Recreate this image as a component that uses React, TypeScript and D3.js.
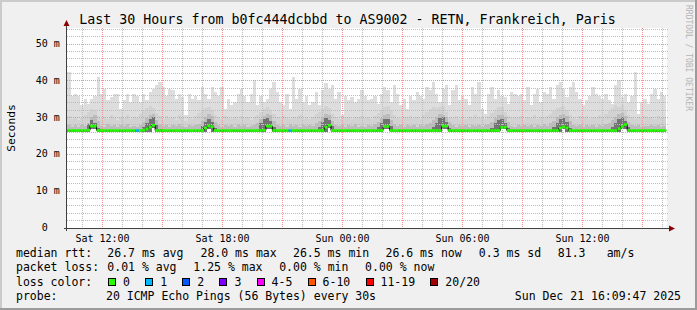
import React from 'react';
import * as d3 from 'd3';

// ---- data (ms per column, ~9.8 min steps) ----
const maxRtt = [
  33.3, 42.4, 36.0, 36.5, 36.0, 33.3, 35.0, 33.8, 35.0, 36.0,
  41.0, 36.5, 37.9, 34.7, 35.6, 36.5, 36.3, 32.4, 34.7, 36.5,
  34.2, 36.5, 36.0, 34.2, 36.5, 34.7, 37.0, 37.9, 38.8, 39.7,
  38.3, 36.0, 37.9, 37.4, 35.1, 36.5, 35.6, 30.6, 36.5, 35.1,
  36.0, 34.7, 38.3, 36.5, 35.1, 38.3, 37.0,
  36.0, 38.3, 32.4, 35.1, 33.3, 34.2, 36.5, 37.9, 36.0, 34.2,
  36.5, 40.2, 33.3, 36.0, 34.2, 35.1, 37.9, 39.7, 37.0, 34.2,
  33.3, 36.5, 32.4, 41.0, 35.1, 37.9, 34.2, 36.0, 33.3, 34.2,
  37.0, 33.3, 37.4, 39.3, 37.9, 38.8, 35.1, 37.0, 30.6, 36.0,
  34.7, 35.6, 34.2, 35.1, 37.4, 36.0,
  34.7, 35.1, 36.0, 33.8, 36.5, 38.3, 37.4, 34.2, 38.8, 36.5,
  33.3, 35.1, 32.4, 36.0, 34.7, 37.0, 36.0, 35.1, 38.3, 37.4,
  39.7, 36.5, 34.2, 37.9, 38.8, 33.3, 37.4, 38.8, 34.7, 36.0,
  35.1, 33.3, 38.3, 36.5, 39.7, 32.4, 31.0, 36.5, 38.3, 35.1,
  37.4, 36.0, 35.6, 33.8, 37.0, 36.5,
  36.0, 36.5, 34.7, 38.3, 33.3, 36.5, 37.9, 34.2, 37.0, 36.5,
  38.3, 35.1, 38.8, 39.7, 37.9, 35.6, 38.3, 39.7, 37.0, 35.1,
  33.3, 34.7, 36.0, 38.3, 36.5, 36.0, 35.1, 36.5, 34.7, 33.8,
  38.8, 40.2, 35.6, 36.5, 34.2, 36.0, 42.4, 31.0, 34.2, 35.1,
  33.8, 36.5, 37.9, 35.1, 37.0, 36.0,
];

const p90Rtt = [
  29.8, 30.5, 29.6, 30.2, 29.4, 29.9, 30.8, 31.5, 32.4, 32.0,
  30.4, 29.7, 30.1, 29.5, 30.6, 29.8, 29.3, 30.2, 29.9, 30.7,
  29.6, 30.3, 29.8, 31.0, 31.8, 32.6, 33.2, 32.5, 31.2, 30.4,
  29.7, 30.5, 29.9, 30.2, 29.4, 30.6, 29.8, 29.2, 30.1, 29.7,
  30.4, 31.2, 31.8, 32.5, 33.0, 32.2, 30.6,
  30.2, 29.6, 30.4, 29.8, 29.5, 30.1, 29.7, 30.5, 29.9, 30.2,
  29.4, 30.3, 30.8, 31.6, 32.4, 33.0, 32.2, 30.9, 30.1, 29.6,
  30.4, 29.8, 29.5, 30.2, 29.9, 30.6, 29.7, 30.1, 29.5, 30.3,
  30.9, 31.5, 32.3, 33.1, 32.6, 31.0, 30.2, 29.7, 30.5, 29.9,
  30.3, 29.6, 30.1, 29.8, 30.4, 29.9,
  30.1, 29.7, 30.4, 31.2, 32.0, 32.8, 33.2, 32.1, 30.8, 30.0,
  29.6, 30.3, 29.8, 30.5, 29.9, 30.2, 29.5, 30.6, 31.5, 32.4,
  33.0, 32.6, 32.8, 33.1, 31.4, 30.3, 29.8, 30.4, 29.7, 30.1,
  29.5, 30.3, 29.9, 30.6, 29.8, 30.2, 29.6, 30.4, 31.2, 32.0,
  32.8, 33.0, 31.6, 30.4, 29.8, 30.2,
  29.9, 30.5, 29.6, 30.2, 29.8, 30.6, 29.7, 30.3, 29.9, 30.4,
  31.0, 31.8, 32.5, 33.0, 33.2, 32.1, 30.6, 30.0, 29.7, 30.4,
  29.8, 30.5, 29.6, 30.2, 29.9, 30.7, 30.1, 30.9, 31.7, 32.5,
  33.3, 33.0, 33.4, 32.2, 30.8, 30.1, 29.7, 30.3, 29.8, 30.5,
  29.9, 30.2, 29.6, 30.4, 29.8, 30.1,
];

const p75Rtt = [
  27.6, 28.1, 27.4, 27.9, 27.5, 28.0, 27.7, 28.6, 30.2, 30.8,
  29.0, 27.8, 27.5, 28.2, 27.6, 27.9, 27.4, 28.0, 27.7, 28.3,
  27.5, 27.8, 27.4, 28.1, 28.9, 29.8, 30.6, 31.0, 29.4, 28.2,
  27.7, 28.0, 27.5, 27.9, 27.6, 28.2, 27.8, 27.4, 28.0, 27.6,
  27.9, 28.3, 29.2, 30.1, 30.9, 30.4, 28.8, 27.9, 27.5, 28.1,
  27.7, 27.9, 27.4, 28.2, 27.6, 28.0, 27.5, 27.8, 28.1, 28.4,
  29.6, 30.5, 31.0, 30.6, 29.1, 28.0, 27.6, 27.9, 27.5, 28.2,
  27.7, 27.9, 27.4, 28.0, 27.6, 28.1, 27.8, 28.4, 29.1, 30.2,
  30.9, 30.7, 29.0, 28.1, 27.7, 28.0, 27.5, 27.9, 27.6, 28.2,
  27.5, 27.8, 27.4, 28.0, 27.7, 28.3, 28.9, 29.8, 30.8, 30.9,
  29.3, 28.2, 27.6, 27.9, 27.5, 28.1, 27.7, 27.9, 27.4, 28.0,
  27.6, 28.2, 28.6, 29.4, 30.3, 31.0, 30.8, 30.1, 28.7, 27.9,
  27.5, 28.0, 27.7, 27.9, 27.4, 28.1, 27.6, 28.0, 27.5, 27.9,
  28.2, 28.9, 29.9, 30.6, 30.8, 30.2, 28.7, 27.8, 27.5, 27.9,
  27.6, 28.1, 27.7, 27.9, 27.4, 28.0, 27.6, 28.2, 27.8, 28.5,
  29.2, 30.1, 30.8, 31.0, 30.4, 29.0, 28.0, 27.6, 27.9, 27.5,
  28.1, 27.7, 27.9, 27.5, 28.0, 27.6, 28.2, 28.4, 29.3, 30.2,
  30.9, 31.2, 30.5, 28.8, 27.9, 27.6, 28.0, 27.5, 27.8, 27.6,
  28.1, 27.7, 27.9, 27.5, 27.8,
];

const p60Rtt = [
  26.7, 26.7, 26.7, 26.7, 26.7, 26.7, 26.7, 28.2, 29.4, 28.6,
  27.2, 26.7, 26.7, 26.7, 26.7, 26.7, 26.7, 26.7, 26.7, 26.7,
  26.7, 26.7, 26.7, 26.7, 27.4, 28.6, 29.7, 30.2, 28.0, 26.9,
  26.7, 26.7, 26.7, 26.7, 26.7, 26.7, 26.7, 26.7, 26.7, 26.7,
  26.7, 26.7, 27.6, 28.8, 29.5, 28.9, 27.3, 26.7, 26.7, 26.7,
  26.7, 26.7, 26.7, 26.7, 26.7, 26.7, 26.7, 26.7, 26.7, 26.7,
  28.5, 29.6, 30.0, 29.2, 27.5, 26.7, 26.7, 26.7, 26.7, 26.7,
  26.7, 26.7, 26.7, 26.7, 26.7, 26.7, 26.7, 26.7, 27.4, 28.7,
  29.8, 29.3, 27.6, 26.7, 26.7, 26.7, 26.7, 26.7, 26.7, 26.7,
  26.7, 26.7, 26.7, 26.7, 26.7, 26.7, 27.5, 28.6, 29.7, 29.5,
  27.8, 26.7, 26.7, 26.7, 26.7, 26.7, 26.7, 26.7, 26.7, 26.7,
  26.7, 26.7, 26.7, 27.4, 28.5, 29.8, 30.1, 28.9, 27.2, 26.7,
  26.7, 26.7, 26.7, 26.7, 26.7, 26.7, 26.7, 26.7, 26.7, 26.7,
  26.7, 27.2, 28.4, 29.3, 29.6, 28.5, 27.1, 26.7, 26.7, 26.7,
  26.7, 26.7, 26.7, 26.7, 26.7, 26.7, 26.7, 26.7, 26.7, 26.7,
  27.5, 28.6, 29.5, 29.9, 28.8, 27.3, 26.7, 26.7, 26.7, 26.7,
  26.7, 26.7, 26.7, 26.7, 26.7, 26.7, 26.7, 26.7, 27.4, 28.5,
  29.6, 30.3, 29.2, 27.4, 26.7, 26.7, 26.7, 26.7, 26.7, 26.7,
  26.7, 26.7, 26.7, 26.7, 26.7,
];

const medianRtt = [
  26.5, 26.5, 26.5, 26.5, 26.5, 26.5, 26.5, 26.6, 27.7, 27.7,
  26.5, 26.5, 26.5, 26.5, 26.5, 26.5, 26.5, 26.5, 26.5, 26.5,
  26.5, 26.5, 26.5, 26.5, 26.6, 26.9, 27.4, 27.9, 26.5, 26.5,
  26.5, 26.5, 26.5, 26.5, 26.5, 26.5, 26.5, 26.5, 26.5, 26.5,
  26.5, 26.5, 26.5, 27.2, 27.8, 27.5, 26.5, 26.5, 26.5, 26.5,
  26.5, 26.5, 26.5, 26.5, 26.5, 26.5, 26.5, 26.5, 26.5, 26.5,
  26.5, 26.6, 27.7, 27.7, 26.5, 26.5, 26.5, 26.5, 26.5, 26.5,
  26.5, 26.5, 26.5, 26.5, 26.5, 26.5, 26.5, 26.5, 26.5, 26.5,
  27.4, 27.9, 26.5, 26.5, 26.5, 26.5, 26.5, 26.5, 26.5, 26.5,
  26.5, 26.5, 26.5, 26.5, 26.5, 26.5, 26.5, 26.5, 27.6, 27.6,
  26.5, 26.5, 26.5, 26.5, 26.5, 26.5, 26.5, 26.5, 26.5, 26.5,
  26.5, 26.5, 26.5, 26.5, 26.5, 26.5, 27.7, 27.7, 26.5, 26.5,
  26.5, 26.5, 26.5, 26.5, 26.5, 26.5, 26.5, 26.5, 26.5, 26.5,
  26.5, 26.5, 26.5, 26.5, 27.3, 27.4, 26.5, 26.5, 26.5, 26.5,
  26.5, 26.5, 26.5, 26.5, 26.5, 26.5, 26.5, 26.5, 26.5, 26.5,
  26.5, 26.5, 27.2, 27.5, 27.2, 26.5, 26.5, 26.5, 26.5, 26.5,
  26.5, 26.5, 26.5, 26.5, 26.5, 26.5, 26.5, 26.5, 26.5, 26.5,
  27.0, 27.6, 28.1, 26.5, 26.5, 26.5, 26.5, 26.5, 26.5, 26.5,
  26.5, 26.5, 26.5, 26.5, 26.5,
];

const minRtt = [
  26.2, 26.2, 26.2, 26.2, 26.2, 26.2, 26.2, 26.2, 27.0, 27.0,
  26.2, 26.2, 26.2, 26.2, 26.2, 26.2, 26.2, 26.2, 26.2, 26.2,
  26.2, 26.2, 26.2, 26.2, 26.2, 26.2, 26.2, 27.2, 26.2, 26.2,
  26.2, 26.2, 26.2, 26.2, 26.2, 26.2, 26.2, 26.2, 26.2, 26.2,
  26.2, 26.2, 26.2, 26.2, 27.0, 26.2, 26.2, 26.2, 26.2, 26.2,
  26.2, 26.2, 26.2, 26.2, 26.2, 26.2, 26.2, 26.2, 26.2, 26.2,
  26.2, 26.2, 27.0, 27.0, 26.2, 26.2, 26.2, 26.2, 26.2, 26.2,
  26.2, 26.2, 26.2, 26.2, 26.2, 26.2, 26.2, 26.2, 26.2, 26.2,
  26.2, 27.2, 26.2, 26.2, 26.2, 26.2, 26.2, 26.2, 26.2, 26.2,
  26.2, 26.2, 26.2, 26.2, 26.2, 26.2, 26.2, 26.2, 27.0, 27.0,
  26.2, 26.2, 26.2, 26.2, 26.2, 26.2, 26.2, 26.2, 26.2, 26.2,
  26.2, 26.2, 26.2, 26.2, 26.2, 26.2, 27.0, 27.0, 26.2, 26.2,
  26.2, 26.2, 26.2, 26.2, 26.2, 26.2, 26.2, 26.2, 26.2, 26.2,
  26.2, 26.2, 26.2, 26.2, 26.8, 26.8, 26.2, 26.2, 26.2, 26.2,
  26.2, 26.2, 26.2, 26.2, 26.2, 26.2, 26.2, 26.2, 26.2, 26.2,
  26.2, 26.2, 26.2, 26.8, 26.2, 26.2, 26.2, 26.2, 26.2, 26.2,
  26.2, 26.2, 26.2, 26.2, 26.2, 26.2, 26.2, 26.2, 26.2, 26.2,
  26.2, 27.0, 27.0, 26.2, 26.2, 26.2, 26.2, 26.2, 26.2, 26.2,
  26.2, 26.2, 26.2, 26.2, 26.2,
];

// columns with lost pings: [column index, pings lost of 20]
const lostPings = [[22, 1], [69, 1]];

const dataStart = new Date(2025, 11, 20, 10, 4, 30);
const stepSeconds = 586;
const viewStart = new Date(2025, 11, 20, 10, 13, 30);
const viewEnd = new Date(2025, 11, 21, 16, 13, 30);
const yMaxMs = 54.35;

const yTickValues = [0, 10, 20, 30, 40, 50];
const yTickLabels = ['0  ', '10 m', '20 m', '30 m', '40 m', '50 m'];

const lossLabels = ['0', '1', '2', '3', '4-5', '6-10', '11-19', '20/20'];
const lossColors = ['#26ff00', '#00b8ff', '#0059ff', '#7e00ff', '#ff00ff', '#ff5500', '#ff0000', '#a10000'];
const lossThresholds = [0, 1, 2, 3, 5, 10, 19, 20];

const titleText = 'Last 30 Hours from b0fc444dcbbd to AS9002 - RETN, Frankreich, Paris';
const rttItems = ['median rtt:', '26.7 ms avg', '28.0 ms max', '26.5 ms min', '26.6 ms now', '0.3 ms sd', '81.3', 'am/s'];
const rttItemX = [16, 107.3, 200.5, 293.0, 385.5, 478.8, 557.8, 606.7];
const lossItems = ['packet loss:', '0.01 % avg', '1.25 % max', '0.00 % min', '0.00 % now'];
const lossItemX = [16, 107.3, 193.3, 279.2, 365.1];
const probeLine = 'probe:       20 ICMP Echo Pings (56 Bytes) every 30s';
const dateStamp = 'Sun Dec 21 16:09:47 2025';

const MONO = '"DejaVu Sans Mono", monospace';

export default function App() {
  const W = 697, H = 310;
  const L = 67, R = 667, T = 28, B = 228;
  const x = d3.scaleTime().domain([viewStart, viewEnd]).range([L, R]);
  const y = d3.scaleLinear().domain([0, yMaxMs]).range([B, T]);

  const n = maxRtt.length;
  const colTime = (i: number) => new Date(dataStart.getTime() + i * stepSeconds * 1000);
  const pts = d3.range(n + 1).map((i) => ({ t: colTime(i), i: Math.min(i, n - 1) }));

  const areaOf = (lo: number[], hi: number[]) =>
    d3.area<any>().x((d) => x(d.t)).y0((d) => y(lo[d.i])).y1((d) => y(hi[d.i])).curve(d3.curveStepAfter)(pts) || '';

  const medianPath = d3.line<any>().x((d) => x(d.t)).y((d) => y(medianRtt[d.i])).curve(d3.curveStepAfter)(pts) || '';

  const lossMap = new Map(lostPings.map(([i, c]) => [i, c]));
  const lossColor = (c: number) => {
    const k = lossThresholds.findIndex((th) => c <= th);
    return lossColors[k < 0 ? lossColors.length - 1 : k];
  };

  const hours = d3.timeHour.range(viewStart, viewEnd);
  const minorX = hours.filter((h) => h.getHours() % 3 !== 0);
  const majorX = hours.filter((h) => h.getHours() % 3 === 0);
  const labelX = hours.filter((h) => h.getHours() % 6 === 0);
  const fmt = d3.timeFormat('%a %H:%M');
  const yMinor = d3.range(2, yMaxMs, 2).filter((v) => v % 10 !== 0);
  const yMajor = d3.range(10, yMaxMs, 10);

  const cw = 6.93; // legend char width
  const legX = 16;
  const legY = [257, 271.3, 285.6, 299.8];

  const swatches: { x: number; label: string; color: string }[] = [];
  let sx = legX + 13 * cw + 2;
  lossLabels.forEach((lab, k) => {
    swatches.push({ x: sx, label: lab, color: lossColors[k] });
    sx = sx + 15 + lab.length * cw + 15.2;
  });

  const px = (v: number) => Math.floor(v) + 0.5;
  const minorStroke = '#bcbcbc';
  const majorStroke = '#f29393';

  return (
    <svg
      width={W}
      height={H}
      style={{ position: 'absolute', left: 0, top: 0, display: 'block' }}
      fontFamily={MONO}
    >
      <defs>
        <clipPath id="canvas">
          <rect x={L} y={T} width={R - L} height={B - T} />
        </clipPath>
      </defs>
      <rect x={0} y={0} width={W} height={H} fill="#f0f0f0" />
      <path d={`M0,${H} L0,0 L${W},0`} fill="none" stroke="#cbcbcb" strokeWidth={4} />
      <path d={`M0,${H} L${W},${H} L${W},0`} fill="none" stroke="#9b9b9b" strokeWidth={4} />

      <rect x={L} y={T} width={R - L} height={B - T} fill="#ffffff" />

      <g clipPath="url(#canvas)" shapeRendering="crispEdges">
        <path d={areaOf(minRtt, maxRtt)} fill="#dddddd" />
        <path d={areaOf(minRtt, p90Rtt)} fill="#d2d2d2" />
        <path d={areaOf(minRtt, p75Rtt)} fill="#bcbcbc" />
        <path d={areaOf(minRtt, p60Rtt)} fill="#737373" />
      </g>

      {/* grid: dotted, drawn over smoke */}
      <g strokeWidth={1} strokeDasharray="1 1" fill="none" shapeRendering="crispEdges">
        {yMinor.map((v) => (
          <path key={'ym' + v} d={`M${L},${px(y(v))}H${R + 1}`} stroke={minorStroke} />
        ))}
        {minorX.map((h) => (
          <path key={'xm' + h.getTime()} d={`M${px(x(h))},${T}V${B}`} stroke={minorStroke} />
        ))}
        {yMajor.map((v) => (
          <path key={'yM' + v} d={`M${L},${px(y(v))}H${R + 1}`} stroke={majorStroke} />
        ))}
        {majorX.map((h) => (
          <path key={'xM' + h.getTime()} d={`M${px(x(h))},${T}V${B}`} stroke={majorStroke} />
        ))}
      </g>

      {/* median */}
      <g clipPath="url(#canvas)">
        <path d={medianPath} fill="none" stroke="#000000" strokeWidth={1} />
        {medianRtt.map((m, i) => {
          const c = lossMap.get(i) ?? 0;
          return (
            <line
              key={'md' + i}
              x1={x(colTime(i))}
              x2={x(colTime(i + 1))}
              y1={y(m)}
              y2={y(m)}
              stroke={lossColor(c)}
              strokeWidth={2.6}
            />
          );
        })}
      </g>

      {/* axes */}
      <g shapeRendering="crispEdges">
        <line x1={L - 0.5} x2={L - 0.5} y1={B + 3} y2={T - 6} stroke="#404040" />
        <line x1={L - 3} x2={R + 4} y1={B + 0.5} y2={B + 0.5} stroke="#404040" />
      </g>
      <polygon points={`${L - 3.5},${T - 2} ${L + 2.5},${T - 2} ${L - 0.5},${T - 8}`} fill="#8b0000" />
      <polygon points={`${R + 2},${B - 2.5} ${R + 2},${B + 3.5} ${R + 8},${B + 0.5}`} fill="#8b0000" />

      {yTickValues.map((v, k) => (
        <text key={'yl' + v} x={59.8} y={y(v) + 3} fontSize={10} textAnchor="end" fill="#000" style={{ whiteSpace: 'pre' }}>
          {yTickLabels[k]}
        </text>
      ))}

      {labelX.map((h) => (
        <text key={'xl' + h.getTime()} x={x(h)} y={241.5} fontSize={10} textAnchor="middle" fill="#000">
          {fmt(h)}
        </text>
      ))}

      <text x={347.5} y={24} fontSize={13.3} textAnchor="middle" fill="#000">
        {titleText}
      </text>

      <text transform="translate(15,128) rotate(-90)" fontSize={11.3} textAnchor="middle" fill="#000">
        Seconds
      </text>

      <text transform="translate(686.3,5) rotate(90)" fontSize={8} fill="#b4b4b4">
        RRDTOOL / TOBI OETIKER
      </text>

      {/* legend */}
      {rttItems.map((s, k) => (
        <text key={'r' + k} x={rttItemX[k]} y={legY[0]} fontSize={11.5} fill="#000">{s}</text>
      ))}
      {lossItems.map((s, k) => (
        <text key={'p' + k} x={lossItemX[k]} y={legY[1]} fontSize={11.5} fill="#000">{s}</text>
      ))}
      <text x={legX} y={legY[2]} fontSize={11.5} fill="#000">loss color:</text>
      {swatches.map((s) => (
        <g key={'sw' + s.label}>
          <rect x={Math.round(s.x) + 0.5} y={278.5} width={7} height={7} fill={s.color} stroke="#000" shapeRendering="crispEdges" />
          <text x={s.x + 15} y={legY[2]} fontSize={11.5} fill="#000">
            {s.label}
          </text>
        </g>
      ))}
      <text x={legX} y={legY[3]} fontSize={11.5} fill="#000" style={{ whiteSpace: 'pre' }}>
        {probeLine}
      </text>
      <text x={681} y={legY[3]} fontSize={11.5} textAnchor="end" fill="#000">
        {dateStamp}
      </text>
    </svg>
  );
}
